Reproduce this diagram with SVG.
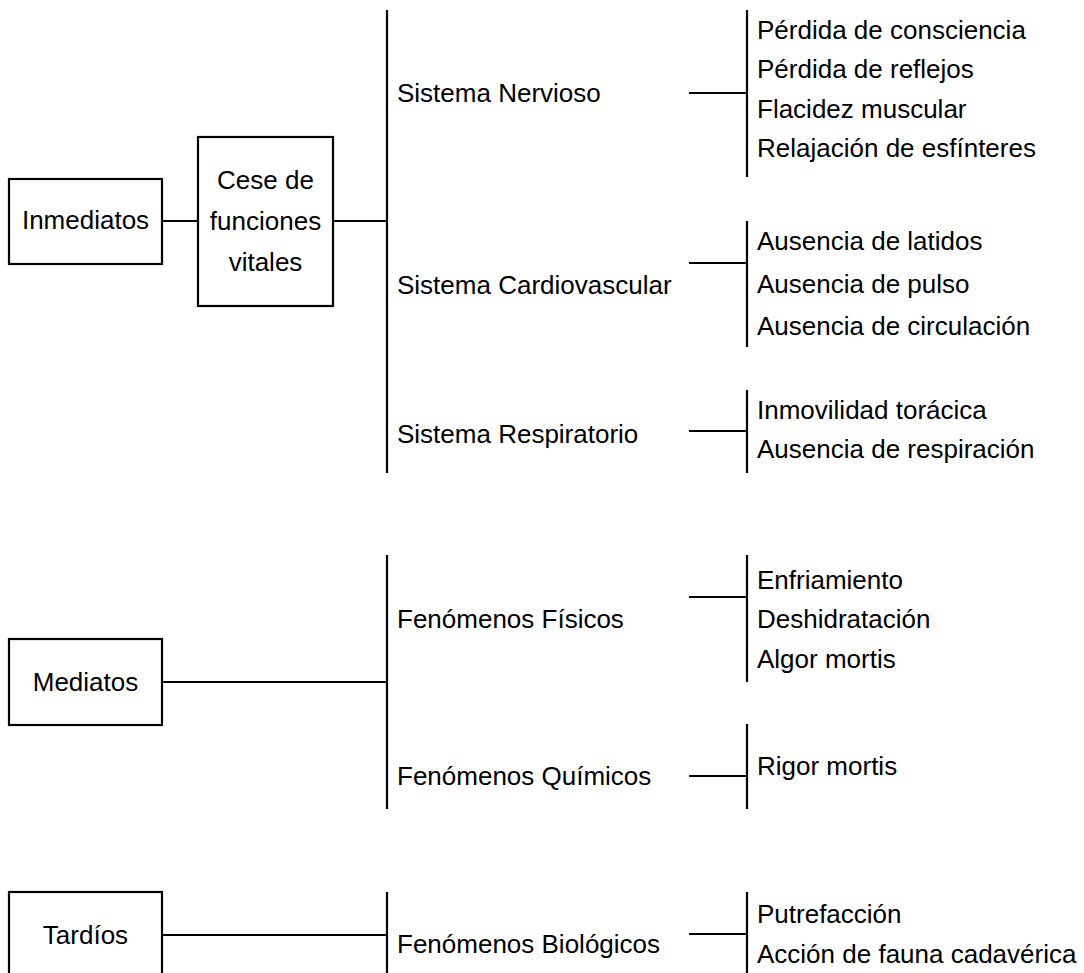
<svg xmlns="http://www.w3.org/2000/svg" width="1084" height="973" viewBox="0 0 1084 973">
<style>
  .box { fill: #ffffff; stroke: #000000; stroke-width: 2.2; }
  .ln { stroke: #000000; stroke-width: 2.2; fill: none; }
  text { font-family: "Liberation Sans", Arial, sans-serif; font-size: 26px; fill: #000000; }
  .c { text-anchor: middle; }
</style>
<rect width="1084" height="973" fill="#ffffff"/>
<g id="connectors">
  <line class="ln" x1="162" y1="221" x2="198" y2="221"/>
  <line class="ln" x1="333" y1="221" x2="387" y2="221"/>
  <line class="ln" x1="387" y1="10" x2="387" y2="473"/>
  <line class="ln" x1="689" y1="93" x2="747" y2="93"/>
  <line class="ln" x1="747" y1="10" x2="747" y2="177"/>
  <line class="ln" x1="689" y1="263" x2="747" y2="263"/>
  <line class="ln" x1="747" y1="221" x2="747" y2="347"/>
  <line class="ln" x1="689" y1="431" x2="747" y2="431"/>
  <line class="ln" x1="747" y1="390" x2="747" y2="473"/>
  <line class="ln" x1="162" y1="682" x2="387" y2="682"/>
  <line class="ln" x1="387" y1="555" x2="387" y2="809"/>
  <line class="ln" x1="689" y1="597" x2="747" y2="597"/>
  <line class="ln" x1="747" y1="555" x2="747" y2="682"/>
  <line class="ln" x1="689" y1="776" x2="747" y2="776"/>
  <line class="ln" x1="747" y1="724" x2="747" y2="809"/>
  <line class="ln" x1="162" y1="935" x2="387" y2="935"/>
  <line class="ln" x1="387" y1="892" x2="387" y2="975"/>
  <line class="ln" x1="689" y1="934" x2="747" y2="934"/>
  <line class="ln" x1="747" y1="892" x2="747" y2="975"/>
</g>
<g id="inmediatos">
  <rect class="box" x="9" y="179" width="153" height="85"/>
  <text class="c" x="85.5" y="229">Inmediatos</text>
</g>
<g id="cese">
  <rect class="box" x="198" y="137" width="135" height="169"/>
  <text class="c" x="265.5" y="189">Cese de</text>
  <text class="c" x="265.5" y="230">funciones</text>
  <text class="c" x="265.5" y="271">vitales</text>
</g>
<g id="sistema-nervioso"><text x="397" y="102">Sistema Nervioso</text></g>
<g id="nervioso-items">
  <text x="757" y="39">Pérdida de consciencia</text>
  <text x="757" y="78">Pérdida de reflejos</text>
  <text x="757" y="118">Flacidez muscular</text>
  <text x="757" y="157">Relajación de esfínteres</text>
</g>
<g id="sistema-cardiovascular"><text x="397" y="294">Sistema Cardiovascular</text></g>
<g id="cardiovascular-items">
  <text x="757" y="250">Ausencia de latidos</text>
  <text x="757" y="293">Ausencia de pulso</text>
  <text x="757" y="335">Ausencia de circulación</text>
</g>
<g id="sistema-respiratorio"><text x="397" y="443">Sistema Respiratorio</text></g>
<g id="respiratorio-items">
  <text x="757" y="419">Inmovilidad torácica</text>
  <text x="757" y="458">Ausencia de respiración</text>
</g>
<g id="mediatos">
  <rect class="box" x="9" y="639" width="153" height="86"/>
  <text class="c" x="85.5" y="691">Mediatos</text>
</g>
<g id="fenomenos-fisicos"><text x="397" y="628">Fenómenos Físicos</text></g>
<g id="fisicos-items">
  <text x="757" y="589">Enfriamiento</text>
  <text x="757" y="628">Deshidratación</text>
  <text x="757" y="668">Algor mortis</text>
</g>
<g id="fenomenos-quimicos"><text x="397" y="785">Fenómenos Químicos</text></g>
<g id="quimicos-items">
  <text x="757" y="775">Rigor mortis</text>
</g>
<g id="tardios">
  <rect class="box" x="9" y="892" width="153" height="90"/>
  <text class="c" x="85.5" y="944">Tardíos</text>
</g>
<g id="fenomenos-biologicos"><text x="397" y="953">Fenómenos Biológicos</text></g>
<g id="biologicos-items">
  <text x="757" y="923">Putrefacción</text>
  <text x="757" y="963">Acción de fauna cadavérica</text>
</g>
</svg>
